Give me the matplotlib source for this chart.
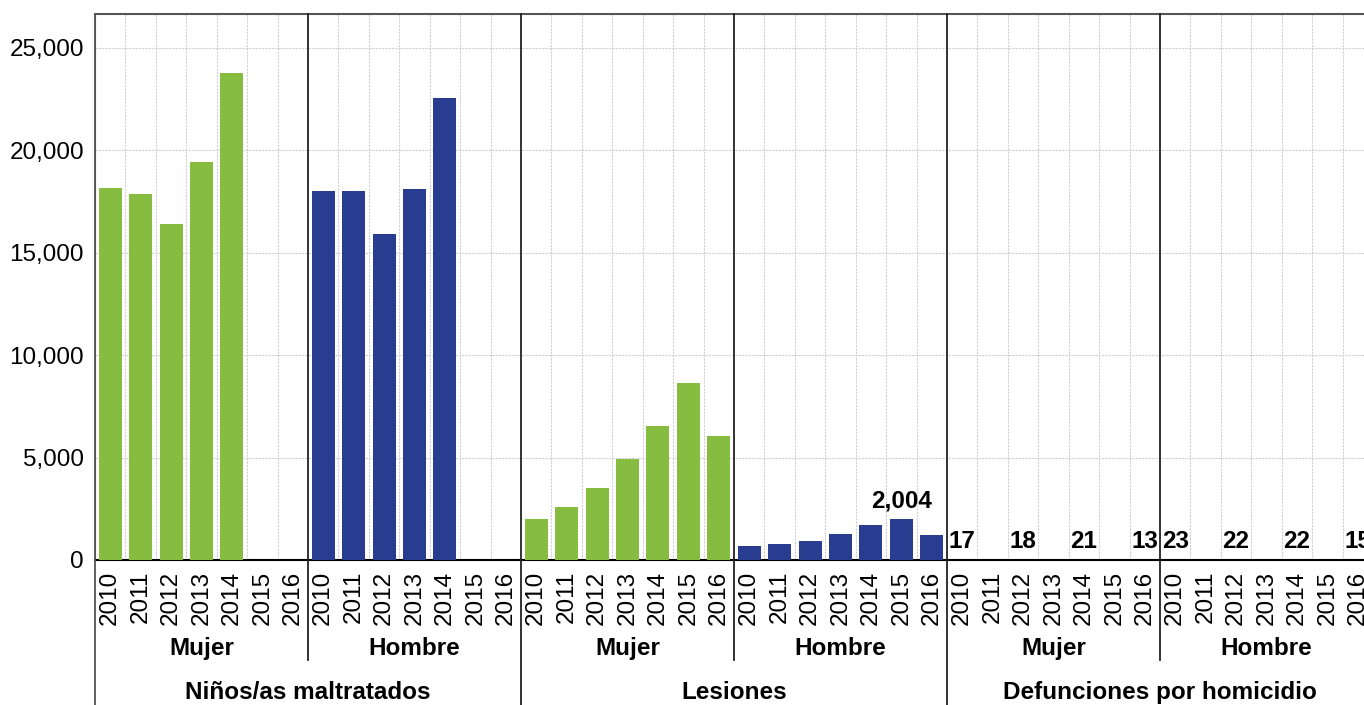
import numpy as np
import matplotlib.pyplot as plt
from matplotlib.ticker import FuncFormatter

plt.rcParams["font.family"] = ["Liberation Sans", "DejaVu Sans"]

years = ["2010", "2011", "2012", "2013", "2014", "2015", "2016"]
sexes = ["Mujer", "Hombre"]
indicators = ["Niños/as maltratados", "Lesiones", "Defunciones por homicidio"]

nan = np.nan
maltratados_mujer = [18160, 17870, 16410, 19430, 23780, nan, nan]
maltratados_hombre = [18020, 18020, 15920, 18110, 22560, nan, nan]
lesiones_mujer = [2000, 2590, 3520, 4930, 6540, 8640, 6060]
lesiones_hombre = [690, 780, 930, 1270, 1710, 2004, 1220]
homicidio_mujer = [17, nan, 18, nan, 21, nan, 13]
homicidio_hombre = [23, nan, 22, nan, 22, nan, 15]

series = [maltratados_mujer, maltratados_hombre,
          lesiones_mujer, lesiones_hombre,
          homicidio_mujer, homicidio_hombre]
labelled = {3: [5], 4: [0, 2, 4, 6], 5: [0, 2, 4, 6]}

green = "#86BC40"
blue = "#283D8F"
fs = 17.5

fig = plt.figure(figsize=(13.64, 7.05), dpi=100)
ax = fig.add_axes([95 / 1364, 1 - 560 / 705, 1278 / 1364, 546 / 705])

ny = len(years)
for g, vals in enumerate(series):
    x = np.arange(ny) + g * ny
    ax.bar(x, vals, width=0.76, color=green if g % 2 == 0 else blue, zorder=3)
    for i in labelled.get(g, []):
        ax.annotate(f"{vals[i]:,.0f}", (x[i], vals[i]), xytext=(0, 5),
                    textcoords="offset points", ha="center", va="bottom",
                    fontsize=fs, fontweight="bold")

n = ny * len(series)
ax.set_xlim(-0.5, n - 0.5)
ax.set_ylim(0, 26660)
ax.set_yticks([0, 5000, 10000, 15000, 20000, 25000])
ax.yaxis.set_major_formatter(FuncFormatter(lambda v, p: f"{v:,.0f}"))
ax.set_xticks(np.arange(n))
ax.set_xticklabels(years * len(series), rotation=90)
ax.tick_params(axis="both", length=0, labelsize=fs, pad=8)

# grid
ax.grid(axis="y", color="#d0d0d0", linestyle=(0, (2, 1)), linewidth=0.8, zorder=0)
for k in range(1, n):
    if k % ny:
        ax.axvline(k - 0.5, color="#d0d0d0", linestyle=(0, (2, 1)),
                   linewidth=0.8, zorder=0)

ax.spines["right"].set_visible(False)
ax.spines["top"].set_color("#555555")
ax.spines["top"].set_linewidth(1.5)
ax.spines["left"].set_color("#555555")
ax.spines["bottom"].set_linewidth(1.5)

# group separators and labels below the axis
trans = ax.get_xaxis_transform()
for g in range(len(series) + 1):
    xs = g * ny - 0.5
    bottom = -0.27 if g % 2 == 0 else -0.183
    ax.plot([xs, xs], [1, bottom], transform=trans, color="#222222" if g else "#555555",
            linewidth=1.3, clip_on=False, zorder=4)
for g in range(len(series)):
    ax.text(g * ny + (ny - 1) / 2, -0.163, sexes[g % 2], transform=trans,
            ha="center", va="center", fontsize=fs, fontweight="bold")
for j, name in enumerate(indicators):
    ax.text(j * 2 * ny + ny - 0.5, -0.242, name, transform=trans,
            ha="center", va="center", fontsize=fs, fontweight="bold")

fig.savefig("out.png", dpi=100)
